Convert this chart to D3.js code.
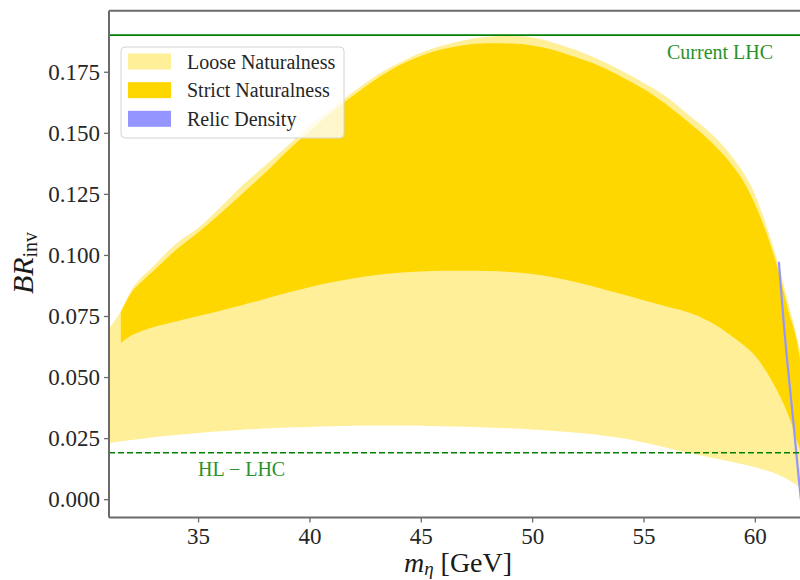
<!DOCTYPE html>
<html>
<head>
<meta charset="utf-8">
<script src="https://cdn.jsdelivr.net/npm/d3@7"></script>
<style>
  html, body { margin: 0; padding: 0; background: #fff; }
  svg { display: block; }
  svg text { font-family: "Liberation Serif", "Times New Roman", serif; }
</style>
</head>
<body>
<svg id="chart" width="800" height="580"></svg>
<script>
// Loose naturalness band (GeV, BR_inv)
const looseMass = [31, 31.5, 32, 33, 34, 35, 36, 37, 38, 39, 40, 41, 42, 43, 44, 45, 46, 47, 48, 49, 50,
                   51, 52, 53, 54, 55, 56, 57, 58, 59, 59.5, 60, 60.5, 61, 61.5, 62, 62.5];
const looseHigh = [0.0698, 0.0765, 0.0855, 0.0955, 0.1045, 0.1110, 0.1195, 0.1285, 0.1365, 0.1445, 0.1530,
                   0.1600, 0.1670, 0.1735, 0.1785, 0.1828, 0.1858, 0.1880, 0.1893, 0.1897, 0.1890,
                   0.1868, 0.1838, 0.1800, 0.1755, 0.1705, 0.1650, 0.1575, 0.1500, 0.1400, 0.1335,
                   0.1250, 0.1125, 0.0980, 0.0805, 0.0620, 0.0400];
const looseLow = [0.0230, 0.0236, 0.0242, 0.0254, 0.0263, 0.0271, 0.0278, 0.0284, 0.0289, 0.0293, 0.0296,
                  0.0299, 0.0301, 0.0302, 0.0302, 0.0301, 0.0299, 0.0297, 0.0294, 0.0290, 0.0285,
                  0.0279, 0.0272, 0.0263, 0.0250, 0.0232, 0.0212, 0.0190, 0.0171, 0.0152, 0.0142,
                  0.0131, 0.0118, 0.0102, 0.0080, 0.0050, 0.0015];

// Strict naturalness band
const strictMass = [31.53, 32, 32.5, 33, 34, 35, 36, 37, 38, 39, 40, 41, 42, 43, 44, 45, 46, 47, 48, 49, 50,
                    51, 52, 53, 54, 55, 56, 57, 58, 59, 59.5, 60, 60.5, 61, 61.5, 62, 62.3];
const strictHigh = [0.0765, 0.0845, 0.0893, 0.0935, 0.1020, 0.1092, 0.1170, 0.1252, 0.1335, 0.1425, 0.1505,
                    0.1585, 0.1655, 0.1720, 0.1775, 0.1815, 0.1843, 0.1860, 0.1867, 0.1866, 0.1858,
                    0.1838, 0.1808, 0.1775, 0.1730, 0.1680, 0.1618, 0.1545, 0.1465, 0.1365, 0.1300,
                    0.1210, 0.1095, 0.0955, 0.0775, 0.0590, 0.0350];
const strictLow = [0.0639, 0.0670, 0.0690, 0.0705, 0.0728, 0.0750, 0.0772, 0.0795, 0.0820, 0.0845, 0.0868,
                   0.0888, 0.0905, 0.0918, 0.0927, 0.0932, 0.0935, 0.0935, 0.0934, 0.0930, 0.0922,
                   0.0908, 0.0888, 0.0865, 0.0840, 0.0815, 0.0790, 0.0765, 0.0725, 0.0665, 0.0630,
                   0.0588, 0.0525, 0.0445, 0.0345, 0.0210, 0.0120];

// Relic density curve
const relicMass = [61.08, 61.41, 61.71, 61.98, 62.08];
const relicBR = [0.0972, 0.0608, 0.0336, 0.0078, -0.0010];

// Collider limits
const currentLHC = 0.19;
const hlLHC = 0.019;

const xTicks = [35, 40, 45, 50, 55, 60];
const yTicks = [0.000, 0.025, 0.050, 0.075, 0.100, 0.125, 0.150, 0.175];

const legendLabels = ["Loose Naturalness", "Strict Naturalness", "Relic Density"];
const legendColors = ["#ffef99", "#ffd700", "#9595ff"];

const serif = "'Liberation Serif', 'Times New Roman', serif";
const svg = d3.select("#chart");
const plotLeft = 109, plotRight = 810.5, plotTop = 10.7, plotBottom = 517.5;

const x = d3.scaleLinear().domain([31, 62.5]).range([plotLeft, plotRight]);
const y = d3.scaleLinear().domain([-0.0075, 0.2]).range([plotBottom, plotTop]);

svg.append("defs").append("clipPath").attr("id", "plotclip")
  .append("rect").attr("x", plotLeft).attr("y", plotTop)
  .attr("width", plotRight - plotLeft).attr("height", plotBottom - plotTop);

const plot = svg.append("g").attr("clip-path", "url(#plotclip)");

const band = (xs, lo, hi) => d3.area()
  .x((d, i) => x(xs[i]))
  .y0((d, i) => y(lo[i]))
  .y1((d, i) => y(hi[i]))
  .curve(d3.curveMonotoneX)(xs);

plot.append("path").attr("d", band(looseMass, looseLow, looseHigh)).attr("fill", "#ffef99");
plot.append("path").attr("d", band(strictMass, strictLow, strictHigh)).attr("fill", "#ffd700");

plot.append("path")
  .attr("d", d3.line().x((d, i) => x(relicMass[i])).y((d, i) => y(relicBR[i])).curve(d3.curveMonotoneY)(relicMass))
  .attr("fill", "none").attr("stroke", "#9595ff").attr("stroke-width", 2.2);

// Limits
plot.append("line").attr("x1", plotLeft).attr("x2", plotRight)
  .attr("y1", y(currentLHC)).attr("y2", y(currentLHC))
  .attr("stroke", "#008000").attr("stroke-width", 1.6);
plot.append("line").attr("x1", plotLeft).attr("x2", plotRight)
  .attr("y1", y(hlLHC)).attr("y2", y(hlLHC))
  .attr("stroke", "#008000").attr("stroke-width", 1.6).attr("stroke-dasharray", "6,3");

svg.append("text").attr("x", 667).attr("y", 59).attr("font-size", 20)
  .attr("fill", "#2a922a").text("Current LHC");
svg.append("text").attr("x", 198).attr("y", 476).attr("font-size", 20)
  .attr("fill", "#2a922a").text("HL \u2212 LHC");

// Axes
const axisColor = "#6b6b6b";
const xAxis = svg.append("g").attr("transform", `translate(0,${plotBottom})`)
  .call(d3.axisBottom(x).tickValues(xTicks).tickSize(5).tickPadding(5).tickFormat(d3.format("d")));
const yAxis = svg.append("g").attr("transform", `translate(${plotLeft},0)`)
  .call(d3.axisLeft(y).tickValues(yTicks).tickSize(5).tickPadding(4).tickFormat(d3.format(".3f")));
[xAxis, yAxis].forEach(g => {
  g.attr("font-family", serif).attr("font-size", 23);
  g.select(".domain").remove();
  g.selectAll(".tick line").attr("stroke", axisColor).attr("stroke-width", 1.3);
  g.selectAll(".tick text").attr("fill", "#262626")
    .style("font-family", serif).style("font-size", "23px");
});

// Frame
svg.append("line").attr("x1", plotLeft).attr("x2", plotLeft).attr("y1", plotTop).attr("y2", plotBottom)
  .attr("stroke", axisColor).attr("stroke-width", 2);
svg.append("line").attr("x1", plotLeft).attr("x2", plotRight).attr("y1", plotBottom).attr("y2", plotBottom)
  .attr("stroke", axisColor).attr("stroke-width", 2);
svg.append("line").attr("x1", plotLeft).attr("x2", plotRight).attr("y1", plotTop).attr("y2", plotTop)
  .attr("stroke", axisColor).attr("stroke-width", 2);

// Axis titles
const xl = svg.append("text").attr("x", 458).attr("y", 572).attr("text-anchor", "middle")
  .attr("font-size", 28).attr("fill", "#1a1a1a");
xl.append("tspan").attr("font-style", "italic").text("m");
xl.append("tspan").attr("font-style", "italic").attr("font-size", 19).attr("dy", 3).text("\u03b7");
xl.append("tspan").attr("dy", -3).text(" [GeV]");

const yl = svg.append("text").attr("transform", "translate(33,263) rotate(-90)")
  .attr("text-anchor", "middle").attr("font-size", 30).attr("fill", "#1a1a1a");
yl.append("tspan").attr("font-style", "italic").text("BR");
yl.append("tspan").attr("font-size", 20).attr("dy", 4).text("inv");

// Legend
const lg = svg.append("g");
lg.append("rect").attr("x", 121).attr("y", 47).attr("width", 223).attr("height", 91).attr("rx", 4)
  .attr("fill", "#fff").attr("fill-opacity", 0.8).attr("stroke", "#d4d4d4").attr("stroke-width", 1);
const rowY = d3.scaleLinear().domain([0, 2]).range([61.5, 118.8]);
legendLabels.forEach((lab, i) => {
  lg.append("rect").attr("x", 128).attr("y", rowY(i) - 8).attr("width", 43).attr("height", 16)
    .attr("fill", legendColors[i]);
  lg.append("text").attr("x", 187).attr("y", rowY(i) + 7).attr("font-size", 20)
    .attr("fill", "#262626").text(lab);
});
</script>
</body>
</html>
